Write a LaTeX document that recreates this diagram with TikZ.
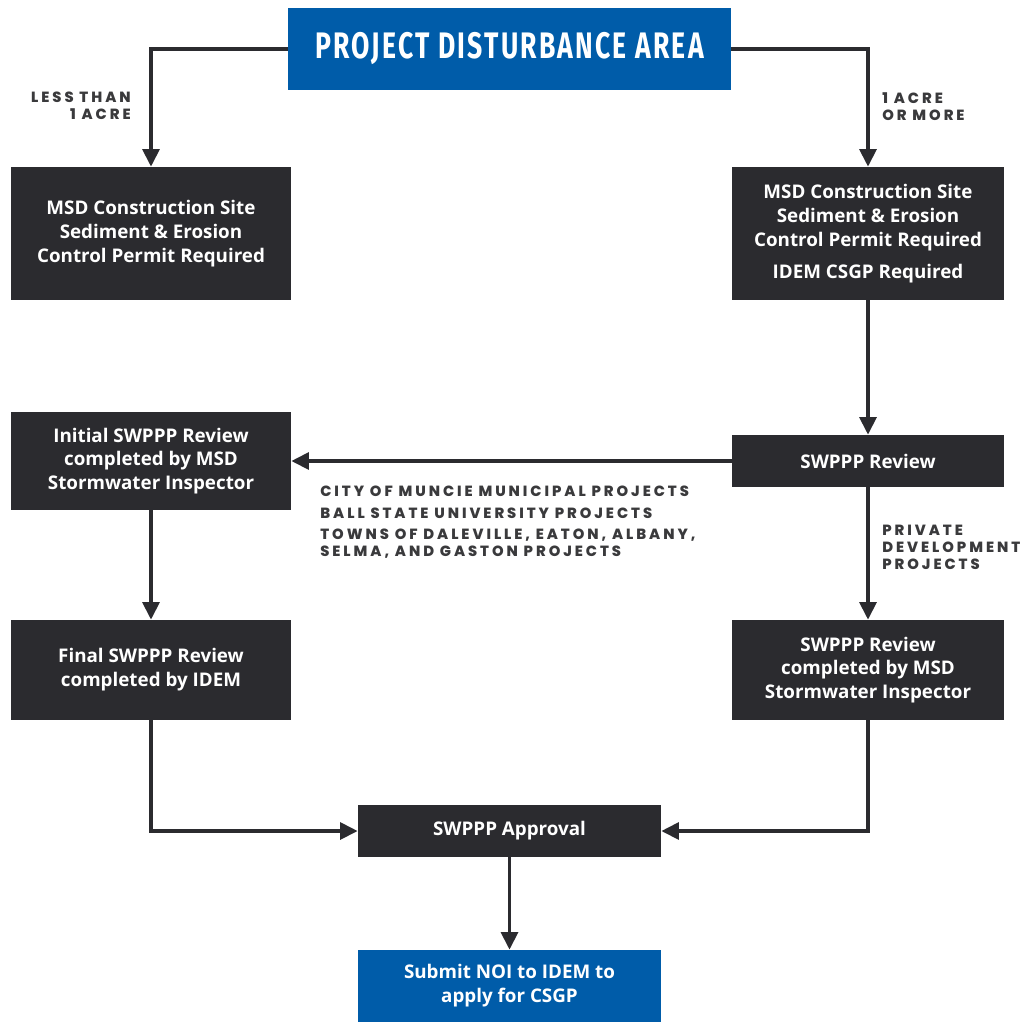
\documentclass[tikz,border=0pt]{standalone}
\usepackage{fontspec}
\usetikzlibrary{arrows.meta}
\setmainfont{Open Sans}
\newfontfamily\titlefont[FakeStretch=0.72,LetterSpace=6]{Fira Sans Bold}
\newfontfamily\labfont[LetterSpace=20]{Poppins ExtraBold}
\definecolor{bluebox}{HTML}{005CA9}
\definecolor{darkbox}{HTML}{2B2B2F}
\definecolor{ink}{HTML}{2B2B2F}
\definecolor{labink}{HTML}{3A3A3C}
\begin{document}
\begin{tikzpicture}[x=0.02cm,y=-0.02cm,
  box/.style={fill=darkbox,text=white,inner sep=0pt,align=center,
    font=\bfseries\fontsize{10.7}{13.6}\selectfont},
  bluebx/.style={box,fill=bluebox},
  lab/.style={text=labink,inner sep=0pt,font=\labfont\fontsize{8.4}{9.6}\selectfont},
  conn/.style={draw=ink,line width=2pt,-{Triangle[width=9.6pt,length=10pt]}}]
\useasboundingbox (0,0) rectangle (1024,1022);
\node[bluebx,minimum width=443*0.02cm,minimum height=82*0.02cm,
  font=\titlefont\fontsize{21}{24}\selectfont] (title) at (509.5,49) {PROJECT DISTURBANCE AREA};
\node[box,minimum width=280*0.02cm,minimum height=133*0.02cm] (lb1) at (151,233.5)
  {MSD Construction Site\\Sediment \& Erosion\\Control Permit Required};
\node[box,minimum width=272*0.02cm,minimum height=133*0.02cm] (rb1) at (868,233.5)
  {MSD Construction Site\\Sediment \& Erosion\\Control Permit Required\\[4.5pt]IDEM CSGP Required};
\node[box,minimum width=280*0.02cm,minimum height=98*0.02cm] (lb2) at (151,461)
  {Initial SWPPP Review\\completed by MSD\\Stormwater Inspector};
\node[box,minimum width=272*0.02cm,minimum height=52*0.02cm] (rev) at (868,461)
  {SWPPP Review};
\node[box,minimum width=280*0.02cm,minimum height=100*0.02cm] (lb3) at (151,670)
  {Final SWPPP Review\\completed by IDEM};
\node[box,minimum width=272*0.02cm,minimum height=100*0.02cm] (rb3) at (868,670)
  {SWPPP Review\\completed by MSD\\Stormwater Inspector};
\node[box,minimum width=303*0.02cm,minimum height=52*0.02cm] (appr) at (509.5,831)
  {SWPPP Approval};
\node[bluebx,minimum width=303*0.02cm,minimum height=72*0.02cm] (sub) at (509.5,986)
  {Submit NOI to IDEM to\\apply for CSGP};
% labels
\node[lab,anchor=north east,align=right] (l1) at (131,92) {LESS THAN\\1 ACRE};
\node[lab,anchor=north west,align=left] (l2) at (882,92) {1 ACRE\\OR MORE};
\node[lab,anchor=north west,align=left] (l3) at (320,486)
  {CITY OF MUNCIE MUNICIPAL PROJECTS\\[2.6pt]BALL STATE UNIVERSITY PROJECTS\\[2.6pt]TOWNS OF DALEVILLE, EATON, ALBANY,\\SELMA, AND GASTON PROJECTS};
\node[lab,anchor=north west,align=left] (l4) at (882,525) {PRIVATE\\DEVELOPMENT\\PROJECTS};
% connectors
\draw[conn] (title.west) -| (lb1.north);
\draw[conn] (title.east) -| (rb1.north);
\draw[conn] (rb1.south) -- (rev.north);
\draw[conn] (rev.west) -- (lb2.east);
\draw[conn] (rev.south) -- (rb3.north);
\draw[conn] (lb2.south) -- (lb3.north);
\draw[conn] (lb3.south) |- (appr.west);
\draw[conn] (rb3.south) |- (appr.east);
\draw[conn] (appr.south) -- (sub.north);
\end{tikzpicture}
\end{document}
